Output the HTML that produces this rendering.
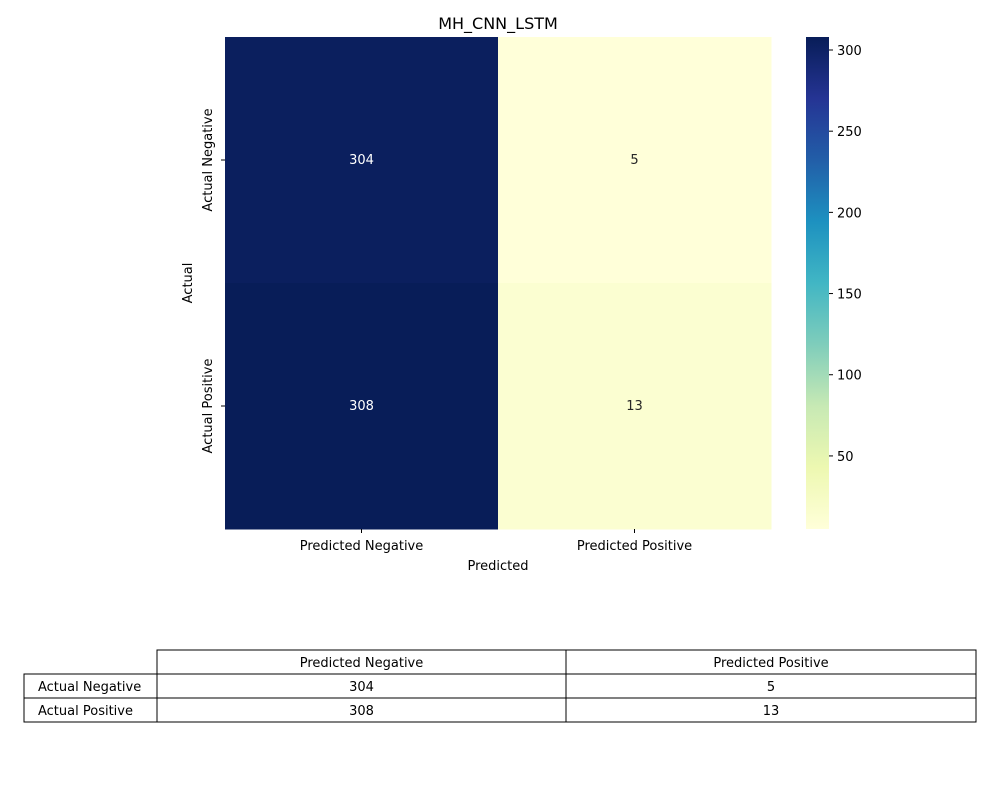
<!DOCTYPE html>
<html><head><meta charset="utf-8"><style>
body{margin:0;background:#fff;font-family:"Liberation Sans","DejaVu Sans",sans-serif;}
svg text{font-family:"DejaVu Sans","Liberation Sans",sans-serif;font-size:13px;}
</style></head><body>
<svg id="c" width="1000" height="800" xmlns="http://www.w3.org/2000/svg">
<defs><linearGradient id="cb" x1="0" y1="1" x2="0" y2="0">
<stop offset="0" stop-color="#ffffd9"/><stop offset="0.125" stop-color="#edf8b1"/><stop offset="0.25" stop-color="#c7e9b4"/><stop offset="0.375" stop-color="#7fcdbb"/><stop offset="0.5" stop-color="#41b6c4"/><stop offset="0.625" stop-color="#1d91c0"/><stop offset="0.75" stop-color="#225ea8"/><stop offset="0.875" stop-color="#253494"/><stop offset="1" stop-color="#081d58"/>
</linearGradient></defs>
<text x="498" y="29" text-anchor="middle" style="font-size:16px">MH_CNN_LSTM</text>
<g id="heat"></g>
<rect x="806" y="37" width="23" height="492" fill="url(#cb)"/>
<g id="cbt"></g>
<text x="498" y="570" text-anchor="middle">Predicted</text>
<text transform="translate(192,283) rotate(-90)" text-anchor="middle">Actual</text>
<g id="tbl"></g>
</svg>
<script>
const rowLabels=["Actual Negative","Actual Positive"];
const colLabels=["Predicted Negative","Predicted Positive"];
const values=[[304,5],[308,13]];
const cbTicks=[50,100,150,200,250,300];
const NS="http://www.w3.org/2000/svg";
const vmin=Math.min(...values.flat()),vmax=Math.max(...values.flat());
const X0=225,X1=771,Y0=37,Y1=529;
const cw=(X1-X0)/colLabels.length,ch=(Y1-Y0)/rowLabels.length;
const stops=["#ffffd9","#edf8b1","#c7e9b4","#7fcdbb","#41b6c4","#1d91c0","#225ea8","#253494","#081d58"];
function hex(h){return [1,3,5].map(i=>parseInt(h.substr(i,2),16));}
function color(v){let t=(v-vmin)/(vmax-vmin);t=Math.max(0,Math.min(1,t));const p=t*(stops.length-1);const i=Math.min(Math.floor(p),stops.length-2);const f=p-i;const a=hex(stops[i]),b=hex(stops[i+1]);return "rgb("+a.map((x,k)=>Math.round(x+(b[k]-x)*f)).join(",")+")";}
function el(tag,attrs,parent,text){const e=document.createElementNS(NS,tag);for(const k in attrs)e.setAttribute(k,attrs[k]);if(text!==undefined)e.textContent=text;parent.appendChild(e);return e;}
const heat=document.getElementById("heat");
values.forEach((row,r)=>row.forEach((v,c)=>{
 const rect=el("rect",{x:X0+c*cw,y:Y0+r*ch,width:cw+0.5,height:ch+0.5,fill:color(v)},heat);
 
 
 const t=(v-vmin)/(vmax-vmin);
 const tx=el("text",{x:X0+(c+0.5)*cw,y:Y0+(r+0.5)*ch+4,"text-anchor":"middle",fill:t>0.5?"#fff":"#262626"},heat,String(v));
 
 
}));
colLabels.forEach((l,c)=>{const x=X0+(c+0.5)*cw;el("line",{x1:x,x2:x,y1:Y1,y2:Y1+4,stroke:"#000"},heat);
 const t=el("text",{x:x,y:Y1+21,"text-anchor":"middle"},heat,l);
 
 });
rowLabels.forEach((l,r)=>{const y=Y0+(r+0.5)*ch;el("line",{x1:X0-4,x2:X0,y1:y,y2:y,stroke:"#000"},heat);
 const t=el("text",{transform:`translate(212,${y}) rotate(-90)`,"text-anchor":"middle"},heat,l);
 
 });
const cbt=document.getElementById("cbt");
cbTicks.forEach(v=>{const y=Y1-(v-vmin)/(vmax-vmin)*(Y1-Y0);el("line",{x1:829,x2:833,y1:y,y2:y,stroke:"#000"},cbt);
 const t=el("text",{x:837,y:y+5},cbt,String(v));
 
 });
const tbl=document.getElementById("tbl");
const cx=[157,566,976],rl=24,ty=[650,674,698,722];
function cell(x,y,w,h,txt,name,left){el("rect",{x:x,y:y,width:w,height:h,fill:"#fff",stroke:"#000","stroke-width":1},tbl);
 const t=el("text",{x:left?x+14:x+w/2,y:y+h/2+5,"text-anchor":left?"start":"middle"},tbl,txt);
 
 }
colLabels.forEach((l,c)=>cell(cx[c],ty[0],cx[c+1]-cx[c],24,l,'table-column-header'));
rowLabels.forEach((l,r)=>{cell(rl,ty[r+1],cx[0]-rl,24,l,'table-row-header',true);
 values[r].forEach((v,c)=>cell(cx[c],ty[r+1],cx[c+1]-cx[c],24,String(v),'table-cell'));});
</script>
</body></html>
